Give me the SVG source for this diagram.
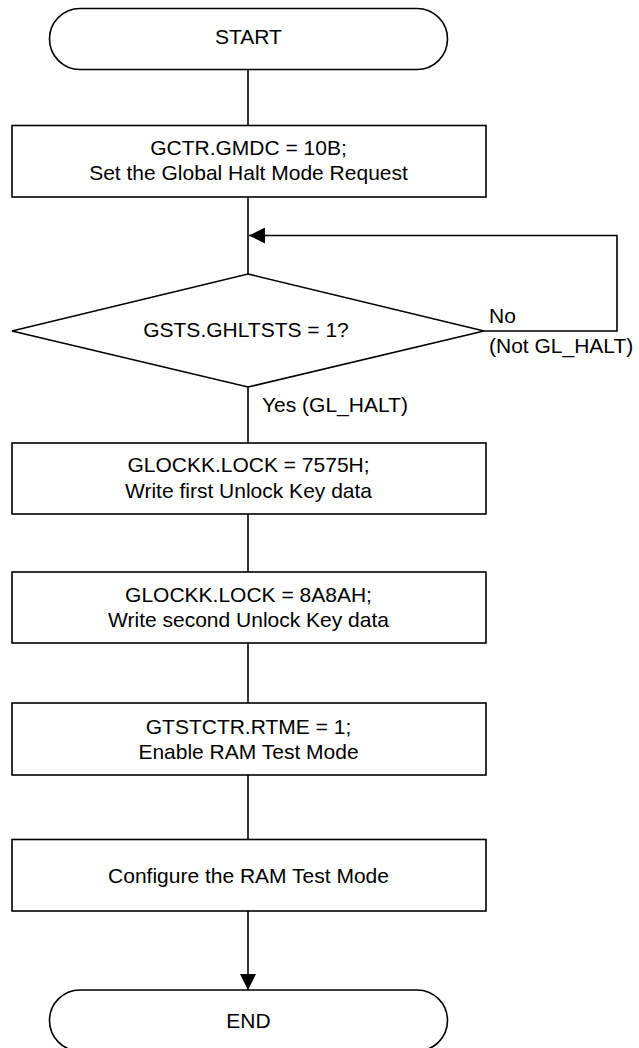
<svg xmlns="http://www.w3.org/2000/svg" width="639" height="1048" viewBox="0 0 639 1048">
<style>
.s{fill:#fff;stroke:#000;stroke-width:1.6}
.c{fill:none;stroke:#000;stroke-width:1.6}
text{font-family:"Liberation Sans",Arial,sans-serif;font-size:21px;fill:#000}
.m{text-anchor:middle}
</style>
<defs>
<marker id="ah" markerWidth="16" markerHeight="16" refX="16" refY="8" orient="auto" markerUnits="userSpaceOnUse">
<path d="M0,0 L16,8 L0,16 Z" fill="#000"/>
</marker>
</defs>
<rect width="639" height="1048" fill="#fff"/>
<g id="connectors">
<line class="c" x1="248" y1="69" x2="248" y2="125"/>
<line class="c" x1="248" y1="197" x2="248" y2="274"/>
<polyline class="c" points="484,331 617,331 617,235.5 249,235.5" marker-end="url(#ah)"/>
<line class="c" x1="248" y1="387" x2="248" y2="443"/>
<line class="c" x1="248" y1="514" x2="248" y2="572"/>
<line class="c" x1="248" y1="643" x2="248" y2="703"/>
<line class="c" x1="248" y1="775" x2="248" y2="839.5"/>
<line class="c" x1="248" y1="911" x2="248" y2="990" marker-end="url(#ah)"/>
</g>
<g id="start">
<rect class="s" x="49.5" y="8.5" width="398" height="61" rx="30.5" ry="30.5"/>
<text class="m" x="248.5" y="44">START</text>
</g>
<g id="set-halt">
<rect class="s" x="12" y="125.5" width="474" height="71.5"/>
<text class="m" x="248.5" y="155">GCTR.GMDC = 10B;</text>
<text class="m" x="248.5" y="180">Set the Global Halt Mode Request</text>
</g>
<g id="decision">
<polygon class="s" points="248,274 484,331 248,387 12,331"/>
<text class="m" x="246" y="337">GSTS.GHLTSTS = 1?</text>
</g>
<g id="labels">
<text x="489" y="323">No</text>
<text x="489" y="353">(Not GL_HALT)</text>
<text x="262" y="412">Yes (GL_HALT)</text>
</g>
<g id="unlock1">
<rect class="s" x="12" y="443" width="474" height="71"/>
<text class="m" x="248.5" y="472">GLOCKK.LOCK = 7575H;</text>
<text class="m" x="248.5" y="497.5">Write first Unlock Key data</text>
</g>
<g id="unlock2">
<rect class="s" x="12" y="572" width="474" height="71"/>
<text class="m" x="248.5" y="601.5">GLOCKK.LOCK = 8A8AH;</text>
<text class="m" x="248.5" y="626.5">Write second Unlock Key data</text>
</g>
<g id="enable-ram-test">
<rect class="s" x="12" y="703" width="474" height="72"/>
<text class="m" x="248.5" y="733.5">GTSTCTR.RTME = 1;</text>
<text class="m" x="248.5" y="758.5">Enable RAM Test Mode</text>
</g>
<g id="configure">
<rect class="s" x="12" y="839.5" width="474" height="71.5"/>
<text class="m" x="248.5" y="882.5">Configure the RAM Test Mode</text>
</g>
<g id="end">
<rect class="s" x="49.5" y="990" width="398" height="61" rx="30.5" ry="30.5"/>
<text class="m" x="248.5" y="1027.5">END</text>
</g>
</svg>
